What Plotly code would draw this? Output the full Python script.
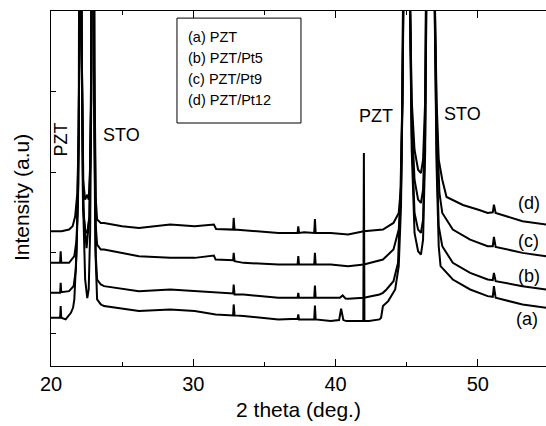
import plotly.graph_objects as go

# ---- data (2 theta in degrees, intensity in arbitrary units) ----
x_a = [20.0, 20.64, 20.68, 20.72, 21.03, 21.40, 21.55, 21.64, 21.8, 21.95, 22.02, 22.06, 22.12, 22.25, 22.4, 22.55,
       22.65, 22.75, 22.85, 22.94, 23.03, 23.12, 23.24, 23.5, 23.73, 26.18, 28.38, 30.10, 31.57, 32.80, 32.84, 32.9,
       33.53, 35.98, 37.33, 37.38, 37.43, 38.5, 38.55, 38.6, 39.66, 40.25, 40.39, 40.55, 40.76, 41.62, 41.95, 41.99,
       42.03, 42.35, 43.09, 43.2, 43.33, 43.70, 44.19, 44.44, 44.6, 44.7, 44.8, 45.0, 45.2, 45.35, 45.55, 45.8, 46.0,
       46.15, 46.3, 46.45, 46.65, 46.9, 47.1, 47.25, 47.38, 48.24, 49.46, 50.69, 51.05, 51.13, 51.25, 53.14, 54.80]
y_a = [145, 145, 180, 145, 140, 160, 175, 200, 350, 700, 1200, 3000, 1200, 500, 260, 204,
       230, 400, 900, 3000, 800, 350, 200, 185, 180, 165, 170, 165, 155, 152, 185, 152,
       150, 140, 142, 155, 140, 140, 182, 140, 135, 138, 172, 138, 135, 135, 135, 640,
       135, 135, 140, 145, 180, 195, 230, 300, 480, 800, 1200, 3000, 1200, 650, 400, 345, 335,
       380, 650, 1300, 3000, 1300, 600, 360, 300, 260, 230, 210, 208, 240, 205, 185, 175]

x_b = [20.0, 20.64, 20.68, 20.72, 21.27, 21.59, 21.75, 21.9, 22.0, 22.06, 22.15, 22.3, 22.5, 22.7, 22.82, 22.94,
       23.05, 23.15, 23.24, 23.5, 23.73, 26.18, 28.38, 30.10, 31.57, 32.80, 32.84, 32.9, 33.53, 35.98, 37.33, 37.38,
       37.43, 38.5, 38.55, 38.6, 40.3, 40.5, 40.7, 40.88, 41.99, 43.09, 43.33, 43.58, 44.07, 44.39, 44.55, 44.7, 44.8,
       45.0, 45.2, 45.35, 45.55, 45.8, 46.0, 46.15, 46.3, 46.45, 46.65, 46.9, 47.1, 47.25, 47.50, 48.24, 49.46, 50.69,
       51.05, 51.13, 51.25, 53.14, 54.80]
y_b = [220, 220, 250, 222, 225, 240, 290, 500, 1000, 3000, 1000, 450, 354, 450, 800, 3000,
       700, 330, 260, 245, 240, 225, 230, 225, 220, 218, 245, 215, 215, 205, 205, 220,
       205, 205, 242, 205, 205, 212, 203, 202, 205, 215, 220, 230, 255, 310, 500, 800, 1200,
       3000, 1200, 700, 460, 410, 400, 440, 700, 1300, 3000, 1300, 650, 420, 360, 310, 280, 260,
       258, 280, 255, 240, 230]

x_c = [20.0, 20.64, 20.68, 20.72, 21.27, 21.64, 21.8, 21.92, 22.0, 22.06, 22.15, 22.25, 22.4, 22.55, 22.7, 22.82,
       22.94, 23.05, 23.15, 23.24, 23.5, 23.73, 26.18, 28.38, 30.10, 31.45, 31.57, 32.80, 32.84, 32.9, 33.53, 35.98,
       37.33, 37.38, 37.43, 38.5, 38.55, 38.6, 39.66, 40.88, 41.99, 43.33, 44.07, 44.44, 44.6, 44.7, 44.8, 45.0, 45.2,
       45.35, 45.55, 45.8, 46.0, 46.15, 46.3, 46.45, 46.65, 46.9, 47.1, 47.3, 47.5, 48.24, 49.46, 50.69, 51.05, 51.13,
       51.25, 53.14, 54.80]
y_c = [310, 310, 345, 310, 310, 330, 380, 550, 1000, 3000, 1000, 480, 410, 400, 450, 800,
       3000, 800, 420, 365, 350, 350, 330, 325, 325, 332, 320, 318, 340, 315, 310, 305,
       305, 330, 305, 305, 340, 305, 305, 300, 305, 320, 350, 410, 520, 800, 1200, 3000, 1200,
       750, 560, 500, 490, 530, 750, 1300, 3000, 1300, 750, 520, 460, 410, 380, 360, 360, 388,
       358, 340, 330]

x_d = [20.0, 20.74, 21.27, 21.52, 21.7, 21.85, 21.95, 22.0, 22.06, 22.15, 22.25, 22.4, 22.55, 22.65, 22.75, 22.85,
       22.94, 23.05, 23.15, 23.24, 23.5, 23.73, 25.0, 26.18, 27.5, 28.38, 30.10, 31.45, 31.6, 32.80, 32.84, 32.9,
       33.53, 35.98, 37.33, 37.38, 37.43, 37.8, 38.5, 38.55, 38.6, 39.66, 40.88, 41.99, 43.33, 44.07, 44.44, 44.6,
       44.7, 44.8, 45.0, 45.2, 45.35, 45.55, 45.8, 46.0, 46.15, 46.3, 46.45, 46.65, 46.9, 47.1, 47.25, 47.5, 47.8,
       48.95, 50.1, 50.69, 51.05, 51.13, 51.25, 52.5, 53.14, 54.80]
y_d = [405, 405, 410, 420, 450, 520, 700, 1000, 3000, 1000, 560, 500, 515, 500, 600, 1000,
       3000, 900, 500, 440, 430, 430, 420, 415, 420, 425, 420, 425, 412, 410, 445, 410,
       408, 400, 400, 420, 400, 402, 400, 442, 400, 400, 395, 405, 410, 430, 460, 540,
       800, 1200, 3000, 1200, 800, 650, 590, 580, 620, 800, 1300, 3000, 1300, 800, 620, 560, 508,
       484, 469, 460, 462, 485, 460, 445, 435, 425]

series = [("(a) PZT", x_a, y_a), ("(b) PZT/Pt5", x_b, y_b),
          ("(c) PZT/Pt9", x_c, y_c), ("(d) PZT/Pt12", x_d, y_d)]

# curve labels placed next to each trace
curve_labels = ["(a)", "(b)", "(c)", "(d)"]
curve_label_x = [53.45, 53.56, 53.56, 53.56]
curve_label_y = [140, 272, 377, 490]

# phase labels
phase_text = ["PZT", "STO", "PZT", "STO"]
phase_x = [20.74, 24.92, 42.87, 48.92]
phase_y = [679, 694, 750, 757]
phase_angle = [-90, 0, 0, 0]

FONT = "Arial, Liberation Sans, Helvetica, sans-serif"

fig = go.Figure()
for name, xs, ys in series:
    fig.add_trace(go.Scatter(x=xs, y=ys, mode="lines", name=name,
                             line=dict(color="black", width=2.0), showlegend=False))

ann = []
for t, xx, yy, ang in zip(phase_text, phase_x, phase_y, phase_angle):
    ann.append(dict(x=xx, y=yy, text=t, showarrow=False, textangle=ang,
                    font=dict(size=18, color="black", family=FONT)))
for t, xx, yy in zip(curve_labels, curve_label_x, curve_label_y):
    ann.append(dict(x=xx, y=yy, text=t, showarrow=False,
                    font=dict(size=18, color="black", family=FONT)))

# boxed legend text
legend_y = [0.9268, 0.8676, 0.8085, 0.7493]
for (name, _, _), ly in zip(series, legend_y):
    ann.append(dict(x=0.2727, y=ly, xref="paper", yref="paper", xanchor="left", yanchor="middle",
                    text=name, showarrow=False, font=dict(size=14.5, color="black", family=FONT)))

# y-axis title
ann.append(dict(x=-0.0606, y=0.473, xref="paper", yref="paper", xanchor="center", yanchor="middle",
                text="Intensity (a.u)", textangle=-90, showarrow=False,
                font=dict(size=21, color="black", family=FONT)))

fig.update_layout(
    width=546, height=426,
    margin=dict(l=51, r=0, t=11, b=60),
    paper_bgcolor="white", plot_bgcolor="white",
    annotations=ann,
    shapes=[dict(type="rect", xref="paper", yref="paper", x0=0.2545, x1=0.505, y0=0.6845, y1=0.980,
                 line=dict(color="black", width=1), fillcolor="rgba(0,0,0,0)")],
    font=dict(family=FONT, color="black"),
)
fig.update_xaxes(range=[20, 54.79], tick0=20, dtick=10, ticks="inside", ticklen=7, tickwidth=1,
                 minor=dict(dtick=5, ticks="inside", ticklen=4, tickwidth=1, tickcolor="black"),
                 showline=True, linecolor="black", linewidth=1.3, mirror="ticks",
                 showgrid=False, zeroline=False, tickcolor="black", automargin=False,
                 tickfont=dict(size=20, family=FONT),
                 title=dict(text="2 theta (deg.)", font=dict(size=21, family=FONT), standoff=8))
fig.update_yaxes(range=[0, 1067], tick0=99, dtick=242, ticks="inside", ticklen=5, tickwidth=1,
                 showticklabels=False, showline=True, linecolor="black", linewidth=1.3,
                 showgrid=False, zeroline=False, tickcolor="black", automargin=False)

fig.write_html("out.html", config={"displayModeBar": False},
               post_script="document.body.style.margin='0';document.body.style.overflow='hidden';")
